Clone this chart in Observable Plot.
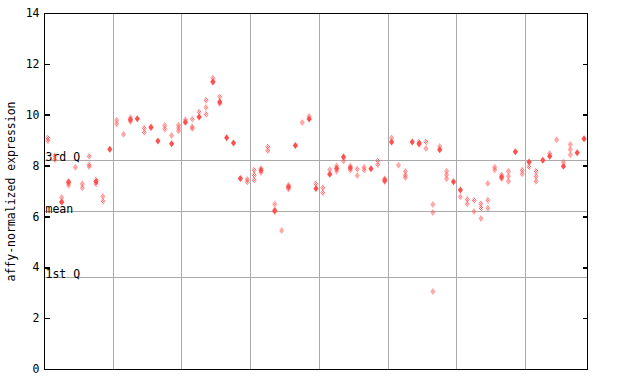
<!DOCTYPE html>
<html><head><meta charset="utf-8">
<script src="https://cdn.jsdelivr.net/npm/d3@7"></script>
<script src="https://cdn.jsdelivr.net/npm/@observablehq/plot@0.6"></script>
<style>body{margin:0;background:#fff}</style>
</head><body><div id="chart"></div>
<script>
// values per sample (79 samples); hatched and filled markers
const hatchVals = [
 [9.1,9.0],[8.4,8.25],[6.76],[7.4,7.25],[7.95],[7.3,7.15],[8.39,8.05,7.98],[7.45,7.3],[6.8,6.62],[],
 [9.8,9.65],[9.25],[9.9,9.75],[],[9.5,9.33],[9.55],[],[9.6,9.45],[9.2],[9.62,9.5,9.38],
 [9.82],[9.85,9.55,9.48],[10.13],[10.59,10.3,10.04],[11.45,11.3],[10.72,10.46],[],[],[],[7.48,7.38],
 [7.85,7.65,7.45],[7.9,7.75],[8.75,8.6],[6.5,6.2],[5.47],[7.25,7.1],[],[9.71],[9.95],[7.3],
 [7.15,6.95],[7.86],[8.0,7.8],[8.2],[8.0,7.85],[7.88,7.63],[7.95,7.85],[],[8.2,8.05],[7.5,7.38],
 [9.1],[8.03],[7.8,7.65,7.55],[],[8.95,8.85],[8.95,8.69],[6.49,6.17,3.07],[8.77],[7.8,7.65,7.5],[],
 [6.79],[6.7,6.52],[6.66,6.21],[6.52,6.35,5.94],[7.31,6.66,6.34],[7.95,7.85],[7.65,7.5],[7.8,7.6,7.4],[],[7.85,7.7],
 [7.97],[7.8,7.6,7.4],[],[8.49],[9.04],[8.16],[8.85,8.65,8.45],[],[]
];
const filledVals = [
 [],[],[6.59],[7.35],[],[],[],[7.38],[],[8.66],
 [],[],[9.82],[9.86],[],[9.52],[8.99],[],[8.88],[],
 [9.72],[],[9.93],[],[11.32],[10.52],[9.11],[8.91],[7.51],[],
 [],[7.84],[],[6.25],[],[7.18],[8.81],[],[9.85],[7.12],
 [],[7.68],[7.9],[8.36],[7.92],[],[],[7.89],[],[7.44],
 [8.95],[],[],[8.95],[8.89],[],[],[8.64],[],[7.38],
 [7.06],[],[],[],[],[],[7.57],[],[8.56],[],
 [8.16],[],[8.23],[8.39],[],[7.99],[],[8.52],[9.07]
];
const statLabels = ["3rd Q", "mean", "1st Q"];
const statValues = [8.23, 6.21, 3.62];
const yTicks = [0, 2, 4, 6, 8, 10, 12, 14];
const groupBreaks = [10, 20, 30, 40, 50, 60, 70];
const yLabel = "affy-normalized expression";

const nSamples = hatchVals.length;
const hatchPts = hatchVals.flatMap((vs, i) => vs.map(v => ({i: i + 0.5, v})));
const filledPts = filledVals.flatMap((vs, i) => vs.map(v => ({i: i + 0.5, v})));
const stats = statLabels.map((label, k) => ({label, v: statValues[k]}));

const RED = "#ff5050";
const diamond = {draw(ctx) { ctx.moveTo(0, -3.5); ctx.lineTo(2.6, 0); ctx.lineTo(0, 3.5); ctx.lineTo(-2.6, 0); ctx.closePath(); }};
const tickR = {draw(ctx) { ctx.moveTo(0, 0); ctx.lineTo(5, 0); }};
const tickL = {draw(ctx) { ctx.moveTo(0, 0); ctx.lineTo(-5, 0); }};

const plot = Plot.plot({
  width: 640, height: 384,
  marginLeft: 44, marginRight: 53, marginTop: 13, marginBottom: 15,
  style: {fontFamily: "'DejaVu Sans Mono', monospace", fontSize: "11.5px", background: "#fff", color: "#000"},
  x: {domain: [0, nSamples], axis: null},
  y: {domain: [0, 14], axis: null},
  marks: [
    Plot.ruleX(groupBreaks, {stroke: "#aaaaaa", shapeRendering: "crispEdges"}),
    Plot.ruleY(stats, {y: "v", stroke: "#aaaaaa", shapeRendering: "crispEdges"}),
    Plot.text(stats, {y: "v", text: "label", frameAnchor: "left", textAnchor: "start", lineAnchor: "bottom", dx: 1, dy: 1, fill: "#000"}),
    Plot.dot(hatchPts, {x: "i", y: "v", symbol: diamond, fill: "url(#chk)", stroke: "none", r: 3}),
    Plot.dot(filledPts, {x: "i", y: "v", symbol: diamond, fill: RED, stroke: "none", r: 3}),
    Plot.frame({stroke: "#000", shapeRendering: "crispEdges"}),
    Plot.dot(yTicks, {y: d => d, frameAnchor: "left", symbol: tickR, stroke: "#000", fill: "none", shapeRendering: "crispEdges"}),
    Plot.dot(yTicks, {y: d => d, frameAnchor: "right", symbol: tickL, stroke: "#000", fill: "none", shapeRendering: "crispEdges"}),
    Plot.axisY(yTicks, {anchor: "left", tickSize: 0, tickPadding: 5, label: null, fontSize: 11.5}),
    Plot.text([yLabel], {text: d => d, frameAnchor: "left", textAnchor: "middle", rotate: -90, dx: -33, fill: "#000"})
  ]
});
const ns = "http://www.w3.org/2000/svg";
const defs = document.createElementNS(ns, "defs");
defs.innerHTML = `<pattern id="chk" width="2" height="2" patternUnits="userSpaceOnUse"><rect width="1" height="1" fill="${RED}"/><rect x="1" y="1" width="1" height="1" fill="${RED}"/></pattern>`;
plot.insertBefore(defs, plot.firstChild);
document.getElementById("chart").appendChild(plot);
</script></body></html>
